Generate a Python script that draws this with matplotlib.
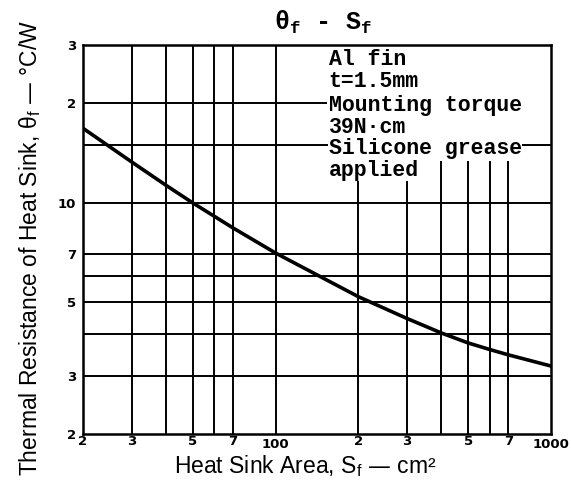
import matplotlib
matplotlib.use("Agg")
import matplotlib.pyplot as plt
import matplotlib.transforms as mtransforms

# curve (heat sink area in cm^2, thermal resistance in C/W)
area = [20, 30, 40, 50, 70, 100, 150, 200, 300, 400, 500, 600, 700, 1000]
theta = [16.8, 13.3, 11.3, 10.0, 8.4, 7.05, 5.9, 5.2, 4.47, 4.04, 3.77, 3.6, 3.47, 3.21]

x_ticks = [20, 30, 50, 70, 100, 200, 300, 500, 700, 1000]
x_labels = ["2", "3", "5", "7", "100", "2", "3", "5", "7", "1000"]
y_ticks = [2, 3, 5, 7, 10, 20, 30]
y_labels = ["2", "3", "5", "7", "10", "2", "3"]

x_grid = [30, 40, 50, 60, 70, 100, 200, 300, 400, 500, 600, 700]
y_grid = [3, 4, 5, 6, 7, 10, 15, 20]

notes = ["Al fin", "t=1.5mm", "Mounting torque", "39N\u00b7cm", "Silicone grease", "applied"]

fig = plt.figure(figsize=(5.71, 4.93), dpi=100)
ax = fig.add_axes([0.1454, 0.1197, 0.8196, 0.789])
ax.set_xscale("log")
ax.set_yscale("log")
ax.set_xlim(20, 1000)
ax.set_ylim(2, 30)
ax.minorticks_off()

gkw = dict(color="black", lw=1.4, zorder=1)
for x in x_grid:
    top = 1.0
    if x >= 400:
        top = 0.699
    elif x >= 200:
        top = 0.648
    ax.axvline(x, 0, top, **gkw)
for y in y_grid:
    if y == 20:
        ax.axhline(y, 0, 0.52, **gkw)
    elif y == 15:
        ax.axhline(y, 0, 0.53, **gkw)
        ax.axhline(y, 0.93, 1, **gkw)
    else:
        ax.axhline(y, **gkw)

ax.plot(area, theta, color="black", lw=2.6, zorder=3)

for s in ax.spines.values():
    s.set_linewidth(1.8)

ax.set_xticks(x_ticks)
ax.set_xticklabels(x_labels)
ax.set_yticks(y_ticks)
ax.set_yticklabels(y_labels)
ax.tick_params(axis="x", length=0, labelsize=9.5, pad=1)
ax.tick_params(axis="y", length=0, labelsize=9.5, pad=5)
for lab in ax.get_xticklabels() + ax.get_yticklabels():
    lab.set_fontweight("bold")
# the decade labels sit a little lower in the original
shift = mtransforms.ScaledTranslation(0, -3 / 100, fig.dpi_scale_trans)
for lab in ax.get_xticklabels():
    if lab.get_text() in ("100", "1000"):
        lab.set_transform(lab.get_transform() + shift)

ys = [0.962, 0.905, 0.845, 0.788, 0.733, 0.678]
for txt, yy in zip(notes, ys):
    ax.text(0.525, yy, txt, transform=ax.transAxes, family="Liberation Mono",
            fontweight="bold", fontsize=15.5, va="center", ha="left", zorder=4,
            bbox=dict(facecolor="white", edgecolor="none", pad=0.3))

fig.text(0.566, 0.955, "$\\mathregular{\\theta_f}$ - $\\mathregular{S_f}$",
         family="Liberation Mono", fontweight="bold", fontsize=18,
         ha="center", va="center")
fig.text(0.534, 0.054, "Heat Sink Area, $\\mathregular{S_f}$ \u2014 cm\u00b2",
         family="Liberation Sans", fontsize=16.5, ha="center", va="center")
fig.text(0.053, 0.497,
         "Thermal Resistance of Heat Sink, $\\mathregular{\\theta_f}$ \u2014 \u00b0C/W",
         family="Liberation Sans", fontsize=16.5, rotation=90, ha="center", va="center")

fig.savefig("out.png", dpi=100)
